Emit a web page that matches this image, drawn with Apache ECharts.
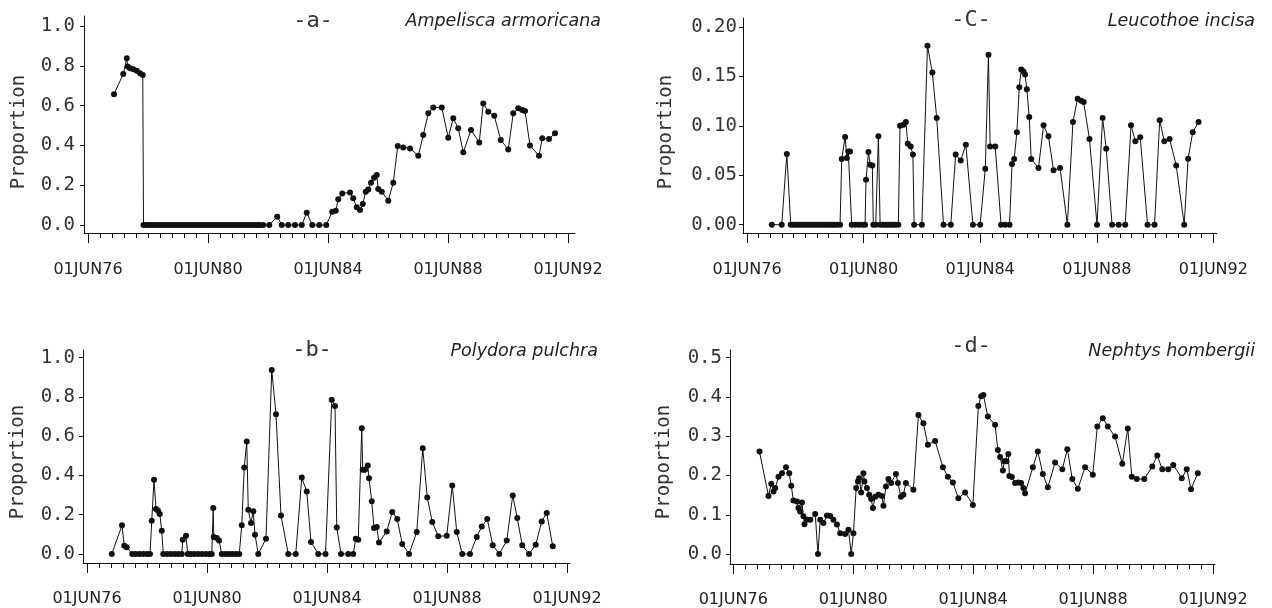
<!DOCTYPE html>
<html>
<head>
<meta charset="utf-8">
<title>Proportion time series</title>
<script src="https://cdn.jsdelivr.net/npm/echarts@6/dist/echarts.min.js"></script>
<style>
    html, body { margin: 0; padding: 0; background: #fff; }
    #main { width: 1272px; height: 608px; }
</style>
</head>
<body>
<div id="main"></div>
<script>
// x = months since 01JUN76, y = proportion
const xTickMonths = [0, 48, 96, 144, 192];
const xTickLabels = ['01JUN76', '01JUN80', '01JUN84', '01JUN88', '01JUN92'];

const yTicksA = [0, 0.2, 0.4, 0.6, 0.8, 1.0];
const yTicksB = [0, 0.2, 0.4, 0.6, 0.8, 1.0];
const yTicksC = [0, 0.05, 0.10, 0.15, 0.20];
const yTicksD = [0, 0.1, 0.2, 0.3, 0.4, 0.5];

const panelLetters = ['-a-', '-b-', '-C-', '-d-'];
const speciesNames = ['Ampelisca armoricana', 'Polydora pulchra', 'Leucothoe incisa', 'Nephtys hombergii'];

// -a- Ampelisca armoricana
const seriesA = [
    [10.4, 0.657], [14.1, 0.759], [15.5, 0.838], [15.9, 0.796], [16.8, 0.787], [18.1, 0.782], [19.5, 0.775], [20.8, 0.762], [21.9, 0.754],
    [22.2, 0], [23, 0], [24, 0], [25, 0], [26, 0], [27, 0], [28, 0], [29, 0], [30, 0], [31, 0], [32, 0], [33, 0], [34, 0],
    [35, 0], [36, 0], [37, 0], [38, 0], [39, 0], [40, 0], [41, 0], [42, 0], [43, 0], [44, 0], [45, 0], [46, 0], [47, 0],
    [48, 0], [49, 0], [50, 0], [51, 0], [52, 0], [53, 0], [54, 0], [55, 0], [56, 0], [57, 0], [58, 0], [59, 0], [60, 0],
    [61, 0], [62, 0], [63, 0], [64, 0], [65, 0], [66, 0], [67, 0], [68, 0], [68.8, 0],
    [70.1, 0], [72.5, 0], [75.7, 0.042], [77.5, 0], [80.1, 0], [82.8, 0], [85.5, 0], [87.5, 0.062], [89.7, 0], [92.5, 0], [95.3, 0],
    [97.7, 0.067], [99.1, 0.072], [100.1, 0.129], [101.7, 0.159], [104.8, 0.164], [106.1, 0.134], [107.5, 0.089], [108.8, 0.075],
    [109.9, 0.106], [111.1, 0.167], [112.1, 0.179], [113.2, 0.213], [114.4, 0.238], [115.5, 0.251], [116.1, 0.181], [117.5, 0.167],
    [120.1, 0.122], [122.1, 0.213], [123.9, 0.397], [126.1, 0.389], [128.8, 0.385], [132.1, 0.348], [134.1, 0.452], [136.1, 0.561],
    [138.1, 0.590], [141.5, 0.590], [144.1, 0.439], [146.1, 0.536], [148.1, 0.486], [150.1, 0.365], [153.2, 0.477], [156.5, 0.415],
    [158.1, 0.611], [160.1, 0.569], [162.5, 0.549], [165.1, 0.427], [168.1, 0.380], [170.1, 0.561], [172.1, 0.586], [173.7, 0.578],
    [174.8, 0.573], [176.8, 0.399], [180.4, 0.348], [181.7, 0.436], [184.4, 0.432], [186.8, 0.461]
];

// -b- Polydora pulchra
const seriesB = [
    [9.9, 0], [14, 0.146], [14.9, 0.042], [15.9, 0.034], [18.1, 0], [19.5, 0], [21, 0], [22.5, 0], [24, 0], [25.2, 0],
    [25.9, 0.169], [26.8, 0.378], [27.6, 0.229], [28.4, 0.22], [29.1, 0.203], [29.9, 0.118], [30.5, 0], [32, 0], [33.5, 0],
    [35, 0], [36.5, 0], [37.9, 0], [38.3, 0.073], [39.6, 0.093], [40.3, 0], [41.5, 0], [43, 0], [44.5, 0], [46, 0], [47.5, 0],
    [49, 0], [49.9, 0], [50.5, 0.234], [50.7, 0.086], [51.9, 0.081], [52.8, 0.069], [53.9, 0], [55.3, 0], [56.7, 0], [58.1, 0],
    [59.5, 0], [60.9, 0], [61.9, 0.146], [62.9, 0.44], [63.9, 0.573], [64.5, 0.225], [65.6, 0.158], [66.5, 0.217], [67.2, 0.098],
    [68.5, 0], [71.6, 0.078], [73.9, 0.937], [75.6, 0.712], [77.6, 0.196], [80.5, 0], [83.5, 0], [85.9, 0.39], [87.9, 0.318],
    [89.6, 0.061], [92.5, 0], [95.4, 0], [97.9, 0.785], [99.2, 0.754], [99.9, 0.135], [101.6, 0], [104.5, 0], [106.5, 0],
    [107.5, 0.078], [108.5, 0.073], [109.9, 0.641], [110.3, 0.429], [111.2, 0.429], [112.3, 0.451], [112.8, 0.386], [113.9, 0.268],
    [114.8, 0.132], [115.9, 0.137], [116.8, 0.059], [119.9, 0.115], [122.1, 0.214], [124.1, 0.178], [126.1, 0.051], [128.8, 0],
    [131.9, 0.112], [134.3, 0.539], [136.1, 0.288], [138.1, 0.163], [140.5, 0.09], [143.9, 0.093], [146.1, 0.349], [147.9, 0.112],
    [150.1, 0], [153.2, 0], [155.9, 0.086], [157.9, 0.14], [160.1, 0.178], [162.3, 0.044], [164.9, 0], [167.9, 0.068],
    [170.3, 0.298], [172.1, 0.183], [174.1, 0.044], [176.8, 0], [179.5, 0.047], [181.9, 0.166], [183.9, 0.209], [186.3, 0.039]
];

// -C- Leucothoe incisa
const seriesC = [
    [10.2, 0], [14.3, 0], [16.4, 0.0716], [18, 0], [19, 0], [20, 0], [21, 0], [22, 0], [23, 0], [24, 0], [25, 0], [26, 0],
    [27, 0], [28, 0], [29, 0], [30, 0], [31, 0], [32, 0], [33, 0], [34, 0], [35, 0], [36, 0], [37, 0], [38.3, 0],
    [39, 0.0665], [40.4, 0.0888], [41.1, 0.0675], [41.7, 0.074], [42.4, 0.074], [43.1, 0], [44.5, 0], [46, 0], [47.5, 0], [48.6, 0],
    [49, 0.0455], [50, 0.0735], [50.7, 0.0607], [51.6, 0.06], [52, 0], [53, 0], [54.1, 0.0894], [54.8, 0], [56, 0], [57, 0],
    [58, 0], [59, 0], [60, 0], [61, 0], [62.3, 0], [63, 0.1002], [64.4, 0.101], [65.4, 0.104], [66.2, 0.082], [67.4, 0.079],
    [68.3, 0.071], [68.8, 0], [72, 0], [74.3, 0.181], [76.3, 0.154], [78.1, 0.108], [80.9, 0], [83.9, 0], [85.9, 0.071],
    [88, 0.065], [90.1, 0.081], [93, 0], [96, 0], [98.1, 0.0567], [99.4, 0.172], [100.1, 0.079], [102.2, 0.079], [104.6, 0],
    [106.3, 0], [108.1, 0], [109.1, 0.0614], [110, 0.0665], [111.1, 0.0934], [112.1, 0.139], [112.9, 0.157], [113.8, 0.155],
    [114.5, 0.152], [115.2, 0.137], [116.2, 0.109], [117, 0.0665], [120, 0.0574], [122.1, 0.1005], [124.1, 0.0894], [126.2, 0.055],
    [128.9, 0.0574], [131.9, 0], [134.2, 0.104], [136.1, 0.1275], [137.6, 0.1255], [138.6, 0.124], [141, 0.0867], [144.1, 0],
    [146.4, 0.108], [147.9, 0.0769], [150.3, 0], [153, 0], [155.7, 0], [158.1, 0.1005], [159.9, 0.0843], [161.9, 0.0884],
    [164.9, 0], [167.8, 0], [169.9, 0.1056], [171.8, 0.0843], [174, 0.0867], [176.7, 0.06], [180, 0], [181.6, 0.0668],
    [183.5, 0.0934], [185.9, 0.104]
];

// -d- Nephtys hombergii
const seriesD = [
    [10.5, 0.261], [14.1, 0.148], [15.2, 0.179], [16.1, 0.159], [16.8, 0.168], [18.1, 0.197], [19.5, 0.206], [21.1, 0.221],
    [22.4, 0.206], [23.2, 0.174], [24.1, 0.136], [25.5, 0.134], [26.1, 0.117], [26.8, 0.108], [27.5, 0.131], [28.1, 0.096],
    [28.5, 0.076], [29.5, 0.087], [30.8, 0.087], [32.8, 0.102], [33.9, 0], [34.8, 0.087], [36.1, 0.079], [37.5, 0.098],
    [38.8, 0.097], [40.1, 0.087], [41.5, 0.075], [42.8, 0.053], [44.8, 0.051], [46.1, 0.062], [47.2, 0], [48.1, 0.053],
    [49.2, 0.168], [49.9, 0.185], [50.4, 0.193], [51.2, 0.157], [52.1, 0.206], [52.5, 0.185], [53.5, 0.168], [54.4, 0.151],
    [55.2, 0.14], [55.9, 0.117], [56.8, 0.146], [58.1, 0.151], [59.5, 0.148], [60.1, 0.123], [61.1, 0.172], [62.1, 0.191],
    [63.2, 0.181], [65.1, 0.204], [65.9, 0.181], [67.1, 0.146], [68.1, 0.151], [69.1, 0.181], [72.1, 0.164], [74.1, 0.354],
    [76.1, 0.333], [77.9, 0.278], [80.8, 0.288], [83.9, 0.221], [85.9, 0.197], [87.9, 0.182], [90.1, 0.142], [92.8, 0.157],
    [95.9, 0.125], [98.1, 0.377], [99.2, 0.402], [100.1, 0.405], [101.9, 0.35], [104.8, 0.329], [105.9, 0.265], [106.8, 0.247],
    [107.9, 0.213], [108.5, 0.236], [109.3, 0.236], [110.1, 0.255], [110.5, 0.199], [111.5, 0.196], [112.8, 0.181], [114.1, 0.182],
    [115.2, 0.181], [116.1, 0.168], [116.8, 0.155], [119.9, 0.221], [121.9, 0.261], [123.9, 0.204], [125.9, 0.17], [128.8, 0.233],
    [131.7, 0.216], [133.7, 0.267], [135.7, 0.191], [137.9, 0.166], [140.8, 0.221], [143.9, 0.202], [145.7, 0.325], [147.9, 0.346],
    [149.9, 0.325], [152.8, 0.299], [155.7, 0.23], [157.9, 0.32], [159.5, 0.197], [161.5, 0.191], [164.5, 0.191], [167.7, 0.223],
    [169.7, 0.251], [171.7, 0.216], [174.1, 0.216], [176.1, 0.227], [179.5, 0.193], [181.5, 0.216], [183.2, 0.165], [185.9, 0.206]
];

document.addEventListener('DOMContentLoaded', function () {
    const chart = echarts.init(document.getElementById('main'), null, { renderer: 'canvas' });

    const ink = '#111';
    const monoFont = '"DejaVu Sans Mono", monospace';
    const sansFont = '"DejaVu Sans", sans-serif';

    // panel order: a (top left), b (bottom left), c (top right), d (bottom right)
    const panels = [
        { data: seriesA, yTicks: yTicksA, digits: 1, grid: { left: 84, top: 16, width: 491, height: 217 }, x: [-1.6, 194.8], y: [-0.04, 1.05], labelGap: 9, xGap: 29,
          letterPos: [313, 21], namePos: [601, 21], propPos: [19.5, 132] },
        { data: seriesB, yTicks: yTicksB, digits: 1, grid: { left: 83, top: 350, width: 487, height: 213 }, x: [-1.6, 193.2], y: [-0.046, 1.039], labelGap: 8, xGap: 28,
          letterPos: [312, 350], namePos: [598, 351], propPos: [18.5, 462] },
        { data: seriesC, yTicks: yTicksC, digits: 2, grid: { left: 743, top: 18, width: 474, height: 215 }, x: [-1.65, 193.5], y: [-0.0084, 0.2091], labelGap: 6, xGap: 29,
          letterPos: [971, 20], namePos: [1255, 21], propPos: [666, 132] },
        { data: seriesD, yTicks: yTicksD, digits: 1, grid: { left: 730, top: 350, width: 485, height: 214 }, x: [-1.3, 192.8], y: [-0.0254, 0.5196], labelGap: 8, xGap: 28,
          letterPos: [971, 346], namePos: [1255, 351], propPos: [664, 462] }
    ];

    // minor ticks: ten per four-year span
    const minorTicks = [];
    for (let i = 0; i < xTickMonths.length - 1; i++) {
        for (let k = 1; k < 10; k++) {
            minorTicks.push(xTickMonths[i] + k * (xTickMonths[i + 1] - xTickMonths[i]) / 10);
        }
    }

    const grid = [], xAxis = [], yAxis = [], series = [], graphic = [];

    panels.forEach(function (p, i) {
        grid.push(p.grid);

        // main x axis: line, long ticks, labels
        xAxis.push({
            type: 'value', gridIndex: i, min: p.x[0], max: p.x[1], position: 'bottom',
            axisLine: { show: true, onZero: false, lineStyle: { color: ink, width: 1 } },
            axisTick: { show: true, customValues: xTickMonths, length: 10, lineStyle: { color: ink } },
            axisLabel: {
                customValues: xTickMonths, margin: p.xGap, color: '#222', fontFamily: sansFont, fontSize: 16,
                formatter: function (v) { return xTickLabels[xTickMonths.indexOf(v)] || ''; }
            },
            splitLine: { show: false }
        });
        // second x axis for the short minor ticks
        xAxis.push({
            type: 'value', gridIndex: i, min: p.x[0], max: p.x[1], position: 'bottom',
            axisLine: { show: false, onZero: false },
            axisTick: { show: true, customValues: minorTicks, length: 5, lineStyle: { color: ink } },
            axisLabel: { show: false },
            splitLine: { show: false }
        });

        yAxis.push({
            type: 'value', gridIndex: i, min: p.y[0], max: p.y[1],
            axisLine: { show: true, onZero: false, lineStyle: { color: ink, width: 1 } },
            axisTick: { show: true, customValues: p.yTicks, length: 4, lineStyle: { color: ink } },
            axisLabel: {
                customValues: p.yTicks, margin: p.labelGap, color: '#333', fontFamily: monoFont, fontSize: 19,
                formatter: function (v) { return Number(v).toFixed(p.digits); }
            },
            splitLine: { show: false }
        });

        series.push({
            type: 'line',
            xAxisIndex: i * 2,
            yAxisIndex: i,
            data: p.data,
            symbol: 'circle',
            symbolSize: 6,
            lineStyle: { color: ink, width: 1 },
            itemStyle: { color: ink },
            silent: true
        });

        graphic.push({
            type: 'text', x: p.letterPos[0], y: p.letterPos[1],
            style: { text: panelLetters[i], font: '22px ' + monoFont, fill: '#333', align: 'center', verticalAlign: 'middle' }
        });
        graphic.push({
            type: 'text', x: p.namePos[0], y: p.namePos[1],
            style: { text: speciesNames[i], font: 'italic 17.5px ' + sansFont, fill: '#222', align: 'right', verticalAlign: 'middle' }
        });
        graphic.push({
            type: 'text', x: p.propPos[0], y: p.propPos[1], rotation: Math.PI / 2,
            style: { text: 'Proportion', font: '19px ' + monoFont, fill: '#333', align: 'center', verticalAlign: 'middle' }
        });
    });

    chart.setOption({
        animation: false,
        backgroundColor: '#fff',
        grid: grid,
        xAxis: xAxis,
        yAxis: yAxis,
        series: series,
        graphic: graphic
    });

    window.addEventListener('resize', function () { chart.resize(); });
});
</script>
</body>
</html>
